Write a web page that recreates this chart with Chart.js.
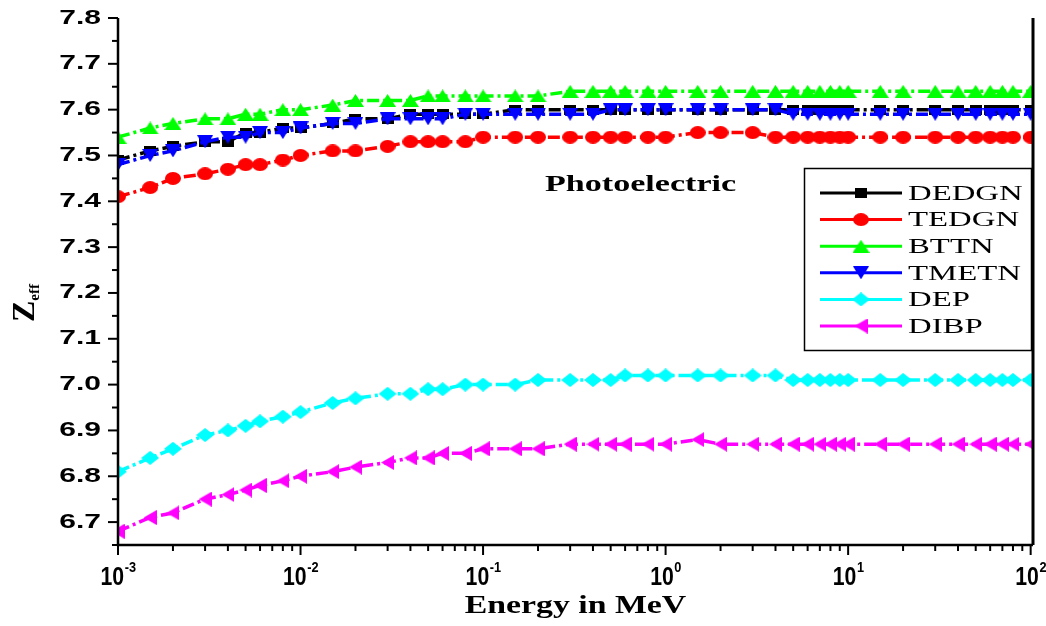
<!DOCTYPE html>
<html>
<head>
<meta charset="utf-8">
<script src="https://cdn.jsdelivr.net/npm/chart.js@4.4.1/dist/chart.umd.min.js"></script>
<style>
  html, body { margin: 0; padding: 0; background: #fff; }
  #wrap { width: 1046px; height: 626px; }
</style>
</head>
<body>
<div id="wrap"><canvas id="zChart" width="1046" height="626"></canvas></div>
<script>
// photon energy (MeV)
const energy = [0.001, 0.0015, 0.002, 0.003, 0.004, 0.005, 0.006, 0.008, 0.01, 0.015, 0.02, 0.03, 0.04, 0.05, 0.06, 0.08, 0.1,
  0.15, 0.2, 0.3, 0.4, 0.5, 0.6, 0.8, 1, 1.5,
  2, 3, 4, 5, 6, 7, 8, 9, 10,
  15, 20, 30, 40, 50, 60, 70, 80, 100];

const dedgn = [7.49, 7.51, 7.52, 7.53, 7.53, 7.55, 7.55, 7.56, 7.56, 7.57, 7.58, 7.58, 7.59, 7.59, 7.59, 7.59, 7.59,
  7.60, 7.60, 7.60, 7.60, 7.60, 7.60, 7.60, 7.60, 7.60,
  7.60, 7.60, 7.60, 7.60, 7.60, 7.60, 7.60, 7.60, 7.60,
  7.60, 7.60, 7.60, 7.60, 7.60, 7.60, 7.60, 7.60, 7.60];
const tedgn = [7.41, 7.43, 7.45, 7.46, 7.47, 7.48, 7.48, 7.49, 7.50, 7.51, 7.51, 7.52, 7.53, 7.53, 7.53, 7.53, 7.54,
  7.54, 7.54, 7.54, 7.54, 7.54, 7.54, 7.54, 7.54, 7.55,
  7.55, 7.55, 7.54, 7.54, 7.54, 7.54, 7.54, 7.54, 7.54,
  7.54, 7.54, 7.54, 7.54, 7.54, 7.54, 7.54, 7.54, 7.54];
const bttn = [7.54, 7.56, 7.57, 7.58, 7.58, 7.59, 7.59, 7.60, 7.60, 7.61, 7.62, 7.62, 7.62, 7.63, 7.63, 7.63, 7.63,
  7.63, 7.63, 7.64, 7.64, 7.64, 7.64, 7.64, 7.64, 7.64,
  7.64, 7.64, 7.64, 7.64, 7.64, 7.64, 7.64, 7.64, 7.64,
  7.64, 7.64, 7.64, 7.64, 7.64, 7.64, 7.64, 7.64, 7.64];
const tmetn = [7.48, 7.50, 7.51, 7.53, 7.54, 7.54, 7.55, 7.55, 7.56, 7.57, 7.57, 7.58, 7.58, 7.58, 7.58, 7.59, 7.59,
  7.59, 7.59, 7.59, 7.59, 7.60, 7.60, 7.60, 7.60, 7.60,
  7.60, 7.60, 7.60, 7.59, 7.59, 7.59, 7.59, 7.59, 7.59,
  7.59, 7.59, 7.59, 7.59, 7.59, 7.59, 7.59, 7.59, 7.59];
const dep = [6.81, 6.84, 6.86, 6.89, 6.90, 6.91, 6.92, 6.93, 6.94, 6.96, 6.97, 6.98, 6.98, 6.99, 6.99, 7.00, 7.00,
  7.00, 7.01, 7.01, 7.01, 7.01, 7.02, 7.02, 7.02, 7.02,
  7.02, 7.02, 7.02, 7.01, 7.01, 7.01, 7.01, 7.01, 7.01,
  7.01, 7.01, 7.01, 7.01, 7.01, 7.01, 7.01, 7.01, 7.01];
const dibp = [6.68, 6.71, 6.72, 6.75, 6.76, 6.77, 6.78, 6.79, 6.80, 6.81, 6.82, 6.83, 6.84, 6.84, 6.85, 6.85, 6.86,
  6.86, 6.86, 6.87, 6.87, 6.87, 6.87, 6.87, 6.87, 6.88,
  6.87, 6.87, 6.87, 6.87, 6.87, 6.87, 6.87, 6.87, 6.87,
  6.87, 6.87, 6.87, 6.87, 6.87, 6.87, 6.87, 6.87, 6.87];

const seriesNames = ['DEDGN', 'TEDGN', 'BTTN', 'TMETN', 'DEP', 'DIBP'];
const seriesValues = [dedgn, tedgn, bttn, tmetn, dep, dibp];

const yTickLabels = ['6.7', '6.8', '6.9', '7.0', '7.1', '7.2', '7.3', '7.4', '7.5', '7.6', '7.7', '7.8'];
const xTickExps = ['-3', '-2', '-1', '0', '1', '2'];

const colors = ['#000000', '#ff0000', '#00ff00', '#0000ff', '#00ffff', '#ff00ff'];
const shapes = ['square', 'circle', 'up', 'down', 'diamond', 'left'];
const markSize = [[12, 10], [16, 13], [17, 13], [16, 13], [18, 14], [13, 15]];

function makeMarker(kind, w, h, color) {
  const c = document.createElement('canvas');
  c.width = w; c.height = h;
  const g = c.getContext('2d');
  g.fillStyle = color;
  g.beginPath();
  if (kind == 'square') g.rect(0, 0, w, h);
  else if (kind == 'circle') g.ellipse(w / 2, h / 2, w / 2, h / 2, 0, 0, Math.PI * 2);
  else if (kind == 'up') { g.moveTo(w / 2, 0); g.lineTo(w, h); g.lineTo(0, h); }
  else if (kind == 'down') { g.moveTo(0, 0); g.lineTo(w, 0); g.lineTo(w / 2, h); }
  else if (kind == 'diamond') { g.moveTo(w / 2, 0); g.lineTo(w, h / 2); g.lineTo(w / 2, h); g.lineTo(0, h / 2); }
  else { g.moveTo(0, h / 2); g.lineTo(w, 0); g.lineTo(w, h); }
  g.closePath();
  g.fill();
  return c;
}

const markers = shapes.map((s, i) => makeMarker(s, markSize[i][0], markSize[i][1], colors[i]));

// text squeezed/stretched horizontally by sx
function drawText(ctx, txt, x, y, font, sx, align) {
  ctx.save();
  ctx.font = font;
  ctx.translate(x, y);
  ctx.scale(sx, 1);
  ctx.textAlign = align || 'left';
  ctx.textBaseline = 'middle';
  ctx.fillText(txt, 0, 0);
  ctx.restore();
}

const decor = {
  id: 'decor',
  afterDraw(chart) {
    const ctx = chart.ctx;
    const a = chart.chartArea;
    const xs = chart.scales.x, ys = chart.scales.y;
    ctx.save();
    ctx.fillStyle = '#000';
    ctx.strokeStyle = '#000';

    // axes frame (no top line)
    ctx.lineWidth = 2.5;
    ctx.beginPath();
    ctx.moveTo(a.left, a.top);
    ctx.lineTo(a.left, a.bottom);
    ctx.lineTo(a.right, a.bottom);
    ctx.stroke();
    ctx.lineWidth = 3;
    ctx.beginPath();
    ctx.moveTo(a.right, a.top);
    ctx.lineTo(a.right, a.bottom);
    ctx.stroke();

    // y ticks
    ctx.lineWidth = 2;
    yTickLabels.forEach(lbl => {
      const v = parseFloat(lbl);
      const py = ys.getPixelForValue(v);
      ctx.beginPath(); ctx.moveTo(a.left - 10, py); ctx.lineTo(a.left, py); ctx.stroke();
      const pm = ys.getPixelForValue(v - 0.05);
      ctx.beginPath(); ctx.moveTo(a.left - 6, pm); ctx.lineTo(a.left, pm); ctx.stroke();
      drawText(ctx, lbl, a.left - 17, py, 'bold 20px "Liberation Sans", Arial, sans-serif', 1.5, 'right');
    });

    // x ticks (decades + minor)
    const bigF = 'bold 25px "Liberation Sans", Arial, sans-serif';
    const supF = 'bold 15px "Liberation Sans", Arial, sans-serif';
    xTickExps.forEach(e => {
      const base = Math.pow(10, parseInt(e));
      const px = xs.getPixelForValue(base);
      ctx.beginPath(); ctx.moveTo(px, a.bottom); ctx.lineTo(px, a.bottom + 10); ctx.stroke();
      for (let m = 2; m <= 9; m++) {
        const v = base * m;
        if (v > xs.max) break;
        const pm = xs.getPixelForValue(v);
        ctx.beginPath(); ctx.moveTo(pm, a.bottom); ctx.lineTo(pm, a.bottom + 6); ctx.stroke();
      }
      // label 10^e
      ctx.font = bigF;
      const w1 = ctx.measureText('10').width * 0.85;
      ctx.font = supF;
      const w2 = ctx.measureText(e).width * 0.85;
      const x0 = px - (w1 + w2) / 2;
      drawText(ctx, '10', x0, a.bottom + 33, bigF, 0.85, 'left');
      drawText(ctx, e, x0 + w1 + 0.5, a.bottom + 23, supF, 0.85, 'left');
    });

    // axis titles
    drawText(ctx, 'Energy in MeV', (a.left + a.right) / 2, 606, 'bold 26px "Liberation Serif", "Times New Roman", serif', 1.3, 'center');
    ctx.save();
    ctx.translate(34, 322);
    ctx.rotate(-Math.PI / 2);
    ctx.font = 'bold 32px "Liberation Serif", "Times New Roman", serif';
    ctx.textBaseline = 'alphabetic';
    ctx.fillText('Z', 0, 0);
    const zw = ctx.measureText('Z').width;
    ctx.font = 'bold 15px "Liberation Serif", "Times New Roman", serif';
    ctx.fillText('eff', zw, 5);
    ctx.restore();

    // annotation
    drawText(ctx, 'Photoelectric', 545, 185, 'bold 24px "Liberation Serif", "Times New Roman", serif', 1.42, 'left');

    // legend
    ctx.lineWidth = 1.5;
    ctx.strokeRect(804.5, 168.5, 227, 182);
    seriesNames.forEach((name, i) => {
      const ly = 193 + i * 26.6;
      ctx.strokeStyle = colors[i];
      ctx.lineWidth = 3;
      ctx.beginPath(); ctx.moveTo(820, ly); ctx.lineTo(902, ly); ctx.stroke();
      const mk = markers[i];
      ctx.drawImage(mk, 861 - mk.width / 2, ly - mk.height / 2);
      ctx.fillStyle = '#000';
      drawText(ctx, name, 908, ly + 1, '22px "Liberation Serif", "Times New Roman", serif', 1.49, 'left');
    });
    ctx.restore();
  }
};

const datasets = seriesNames.map((name, i) => ({
  label: name,
  data: energy.map((e, k) => ({ x: e, y: seriesValues[i][k] })),
  borderColor: colors[i],
  backgroundColor: colors[i],
  borderWidth: 3.5,
  borderDash: [12, 4, 3, 4],
  pointStyle: markers[i],
  pointRadius: 7,
  order: 6 - i
}));

new Chart(document.getElementById('zChart').getContext('2d'), {
  type: 'line',
  data: { datasets: datasets },
  options: {
    responsive: false,
    animation: false,
    devicePixelRatio: 1,
    layout: { padding: { top: 18, right: 13, left: 0, bottom: 0 } },
    plugins: { legend: { display: false }, tooltip: { enabled: false } },
    scales: {
      x: {
        type: 'logarithmic', min: 0.001, max: 103,
        ticks: { display: false }, grid: { display: false }, border: { display: false },
        afterFit: s => { s.height = 81; }
      },
      y: {
        type: 'linear', min: 6.65, max: 7.8,
        ticks: { display: false }, grid: { display: false }, border: { display: false },
        afterFit: s => { s.width = 118; }
      }
    }
  },
  plugins: [decor]
});
</script>
</body>
</html>
